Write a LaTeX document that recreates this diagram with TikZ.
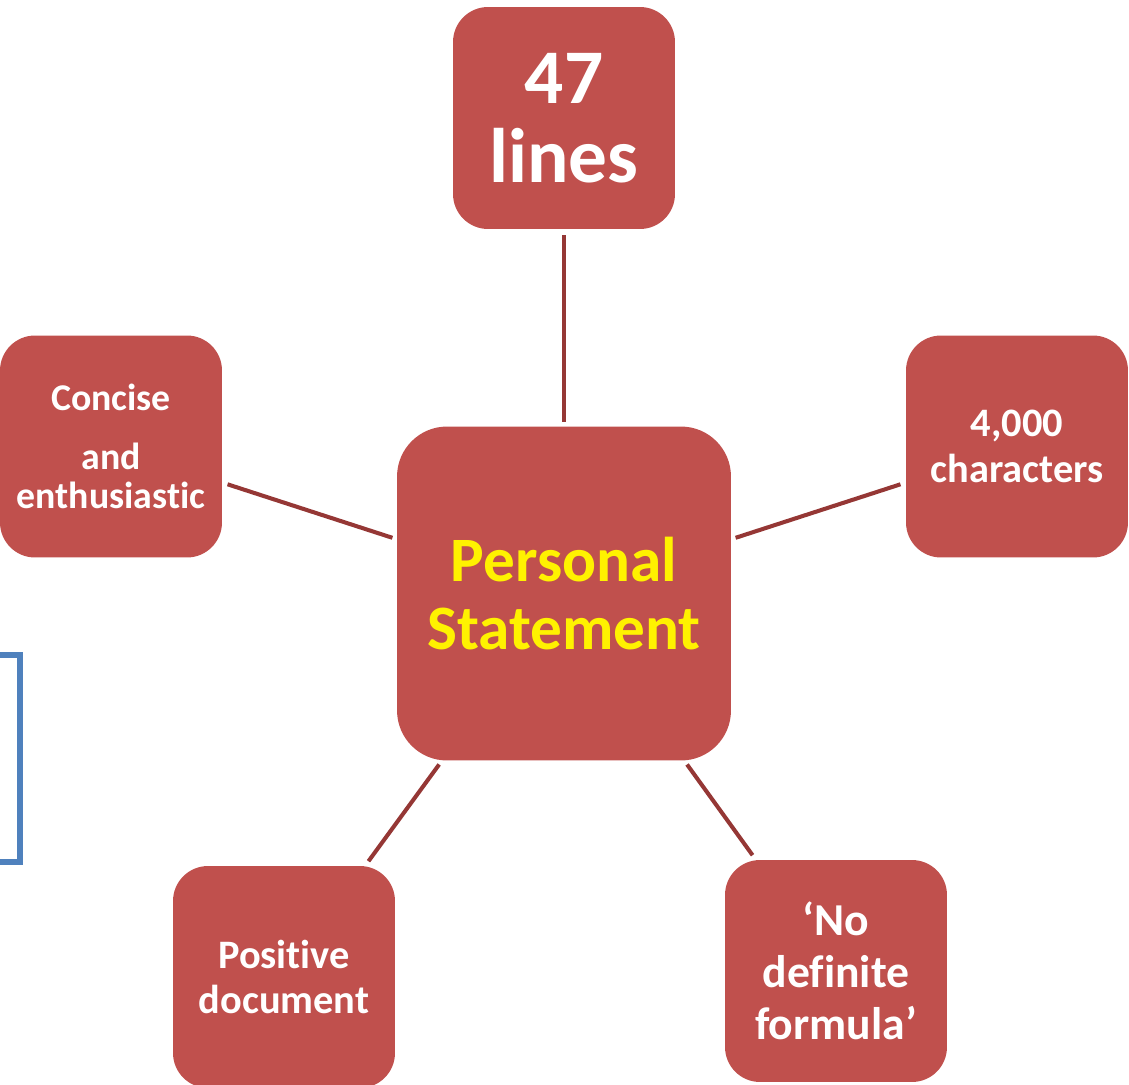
\documentclass[tikz,border=0pt]{standalone}
\usepackage{fontspec}
\setmainfont{Carlito}[Ligatures=NoCommon]
\usetikzlibrary{positioning}
\definecolor{boxred}{HTML}{C0504D}
\definecolor{linkred}{HTML}{953735}
\definecolor{framblue}{HTML}{4F81BD}
\tikzstyle{block} = [fill=boxred, rounded corners=0.7cm, text=white,
    font=\bfseries, align=center, inner sep=0pt,
    minimum height=4.44cm, minimum width=4.44cm]
\tikzstyle{hub} = [block, minimum height=6.68cm, minimum width=6.68cm,
    rounded corners=1cm, text=yellow]
\tikzstyle{link} = [draw=linkred, line width=2.3pt, shorten >=0.11cm, shorten <=0.09cm]

\begin{document}
\begin{tikzpicture}[x=0.02cm, y=-0.02cm]
    % page size of the reference
    \useasboundingbox (0,0) rectangle (1129,1085);

    % the frame cut off at the left edge
    \node [draw=framblue, line width=3.2pt, minimum width=1.2cm, minimum height=4.14cm,
        inner sep=0pt] (frame) at (-10,758.5) {};

    % We start by placing the blocks
    \node [hub, font=\fontsize{36}{39}\selectfont\bfseries] (stmt) at (564,593.5) {Personal\\Statement};
    \node [block, font=\fontsize{44}{45}\selectfont\bfseries] (lines) at (564,118) {47\\lines};
    \node [block, font=\fontsize{21.5}{22.5}\selectfont\bfseries] (concise) at (111,446.5) {Concise\\[0.5em]and\\enthusiastic};
    \node [block, font=\fontsize{23}{26}\selectfont\bfseries] (chars) at (1017,446.5) {4,000\\characters};
    \node [block, font=\fontsize{23}{26}\selectfont\bfseries] (positive) at (284,977) {Positive\\document};
    \node [block, font=\fontsize{26}{29.5}\selectfont\bfseries] (formula) at (836,971) {‘No\\definite\\formula’};

    % Once the nodes are placed, connecting them is easy.
    \draw [link] (stmt) -- (lines);
    \draw [link] (stmt) -- (concise);
    \draw [link] (stmt) -- (chars);
    \draw [link] (stmt) -- (positive);
    \draw [link] (stmt) -- (formula);
\end{tikzpicture}
\end{document}
